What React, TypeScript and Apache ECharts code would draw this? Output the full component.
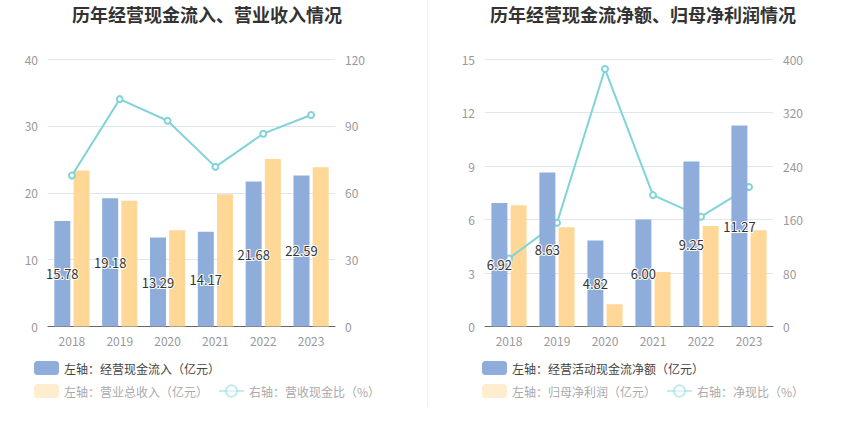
import React, { useEffect, useRef } from "react";
import * as echarts from "echarts";

const years = ["2018", "2019", "2020", "2021", "2022", "2023"];

// Left chart
const cashInflow = [15.78, 19.18, 13.29, 14.17, 21.68, 22.59];
const revenue = [23.31, 18.8, 14.4, 19.79, 25.06, 23.8];
const cashRevenueRatio = [67.7, 102.0, 92.3, 71.6, 86.5, 94.9];

// Right chart
const netCashFlow = [6.92, 8.63, 4.82, 6.0, 9.25, 11.27];
const netProfit = [6.8, 5.57, 1.25, 3.06, 5.64, 5.4];
const netCashRatio = [101.8, 155.0, 385.0, 196.5, 164.2, 208.5];

const titles = ["历年经营现金流入、营业收入情况", "历年经营现金流净额、归母净利润情况"];
const names = [
  ["左轴：经营现金流入（亿元）", "左轴：营业总收入（亿元）", "右轴：营收现金比（%）"],
  ["左轴：经营活动现金流净额（亿元）", "左轴：归母净利润（亿元）", "右轴：净现比（%）"],
];

const BLUE = "#8eaddb";
const ORANGE = "#ffd797";
const TEAL = "#80d4d7";
const FONT = "'Noto Sans CJK SC', 'Noto Sans', sans-serif";

export default function App() {
  const ref = useRef<HTMLDivElement>(null);
  useEffect(() => {
    if (!ref.current) return;
    const chart = echarts.init(ref.current, null, { renderer: "svg" });
    const grids = [
      { left: 48, width: 287, top: 59, height: 267.5 },
      { left: 485, width: 288, top: 59, height: 267.5 },
    ];
    const axisLabel = { color: "#999", fontSize: 12, margin: 10 };
    const splitLine = { lineStyle: { color: "#e0e6f1" } };
    const yAxes: any[] = [];
    const yCfg = [
      [40, 10, 120, 30],
      [15, 3, 400, 80],
    ];
    yCfg.forEach((c, i) => {
      yAxes.push({
        type: "value", gridIndex: i, min: 0, max: c[0], interval: c[1],
        axisLabel, splitLine, axisLine: { show: false }, axisTick: { show: false },
      });
      yAxes.push({
        type: "value", gridIndex: i, position: "right", min: 0, max: c[2], interval: c[3],
        axisLabel, splitLine: { show: false }, axisLine: { show: false }, axisTick: { show: false },
      });
    });
    const xAxes = [0, 1].map((i) => ({
      type: "category", gridIndex: i, data: years,
      axisLine: { lineStyle: { color: "#666" } }, axisTick: { show: false },
      axisLabel: { color: "#999", fontSize: 12, margin: 8 },
    }));
    const dataSets = [
      [cashInflow, revenue, cashRevenueRatio],
      [netCashFlow, netProfit, netCashRatio],
    ];
    const series: any[] = [];
    dataSets.forEach((ds, i) => {
      series.push({
        type: "bar", name: names[i][0], xAxisIndex: i, yAxisIndex: i * 2, data: ds[0],
        barWidth: 16, barGap: "20%", itemStyle: { color: BLUE },
        label: {
          show: true, position: "inside", color: "#333", fontSize: 13,
          textBorderColor: "#fff", textBorderWidth: 2, formatter: (p: any) => p.value.toFixed(2),
        },
        z: 3,
      });
      series.push({
        type: "bar", name: names[i][1], xAxisIndex: i, yAxisIndex: i * 2, data: ds[1],
        barWidth: 16, barGap: "20%", itemStyle: { color: ORANGE },
      });
      series.push({
        type: "line", name: names[i][2], xAxisIndex: i, yAxisIndex: i * 2 + 1, data: ds[2],
        symbol: "emptyCircle", symbolSize: 6, lineStyle: { color: TEAL, width: 2 },
        itemStyle: { color: TEAL }, z: 2,
      });
    });
    const legendLeft = [34, 482];
    const legends: any[] = [];
    [0, 1].forEach((i) => {
      legends.push({
        left: legendLeft[i], top: 361, padding: 0, itemWidth: 25, itemHeight: 14, itemGap: 10,
        textStyle: { color: "#444", fontSize: 12, fontFamily: FONT },
        data: [names[i][0]],
      });
      legends.push({
        left: legendLeft[i], top: 384, padding: 0, itemWidth: 25, itemHeight: 14, itemGap: 10,
        textStyle: { color: "#aaa", fontSize: 12, fontFamily: FONT },
        data: [
          { name: names[i][1], itemStyle: { opacity: 0.45 } },
          { name: names[i][2], itemStyle: { opacity: 0.45 }, lineStyle: { opacity: 0.45 } },
        ],
      });
    });
    chart.setOption({
      animation: false,
      textStyle: { fontFamily: FONT },
      grid: grids,
      xAxis: xAxes,
      yAxis: yAxes,
      series,
      legend: legends,
      graphic: [
        {
          type: "text", x: 207, y: 14,
          style: { text: titles[0], fill: "#333", font: `bold 18px ${FONT}`, textAlign: "center", textVerticalAlign: "middle" },
        },
        {
          type: "text", x: 643, y: 14,
          style: { text: titles[1], fill: "#333", font: `bold 18px ${FONT}`, textAlign: "center", textVerticalAlign: "middle" },
        },
        {
          type: "line", shape: { x1: 427.5, y1: 0, x2: 427.5, y2: 407 },
          style: { stroke: "#eeeeee", lineWidth: 1 },
        },
      ],
    });
    return () => chart.dispose();
  }, []);
  return (
    <div
      ref={ref}
      style={{ position: "fixed", left: 0, top: 0, width: 850, height: 437, background: "#fff" }}
    />
  );
}
